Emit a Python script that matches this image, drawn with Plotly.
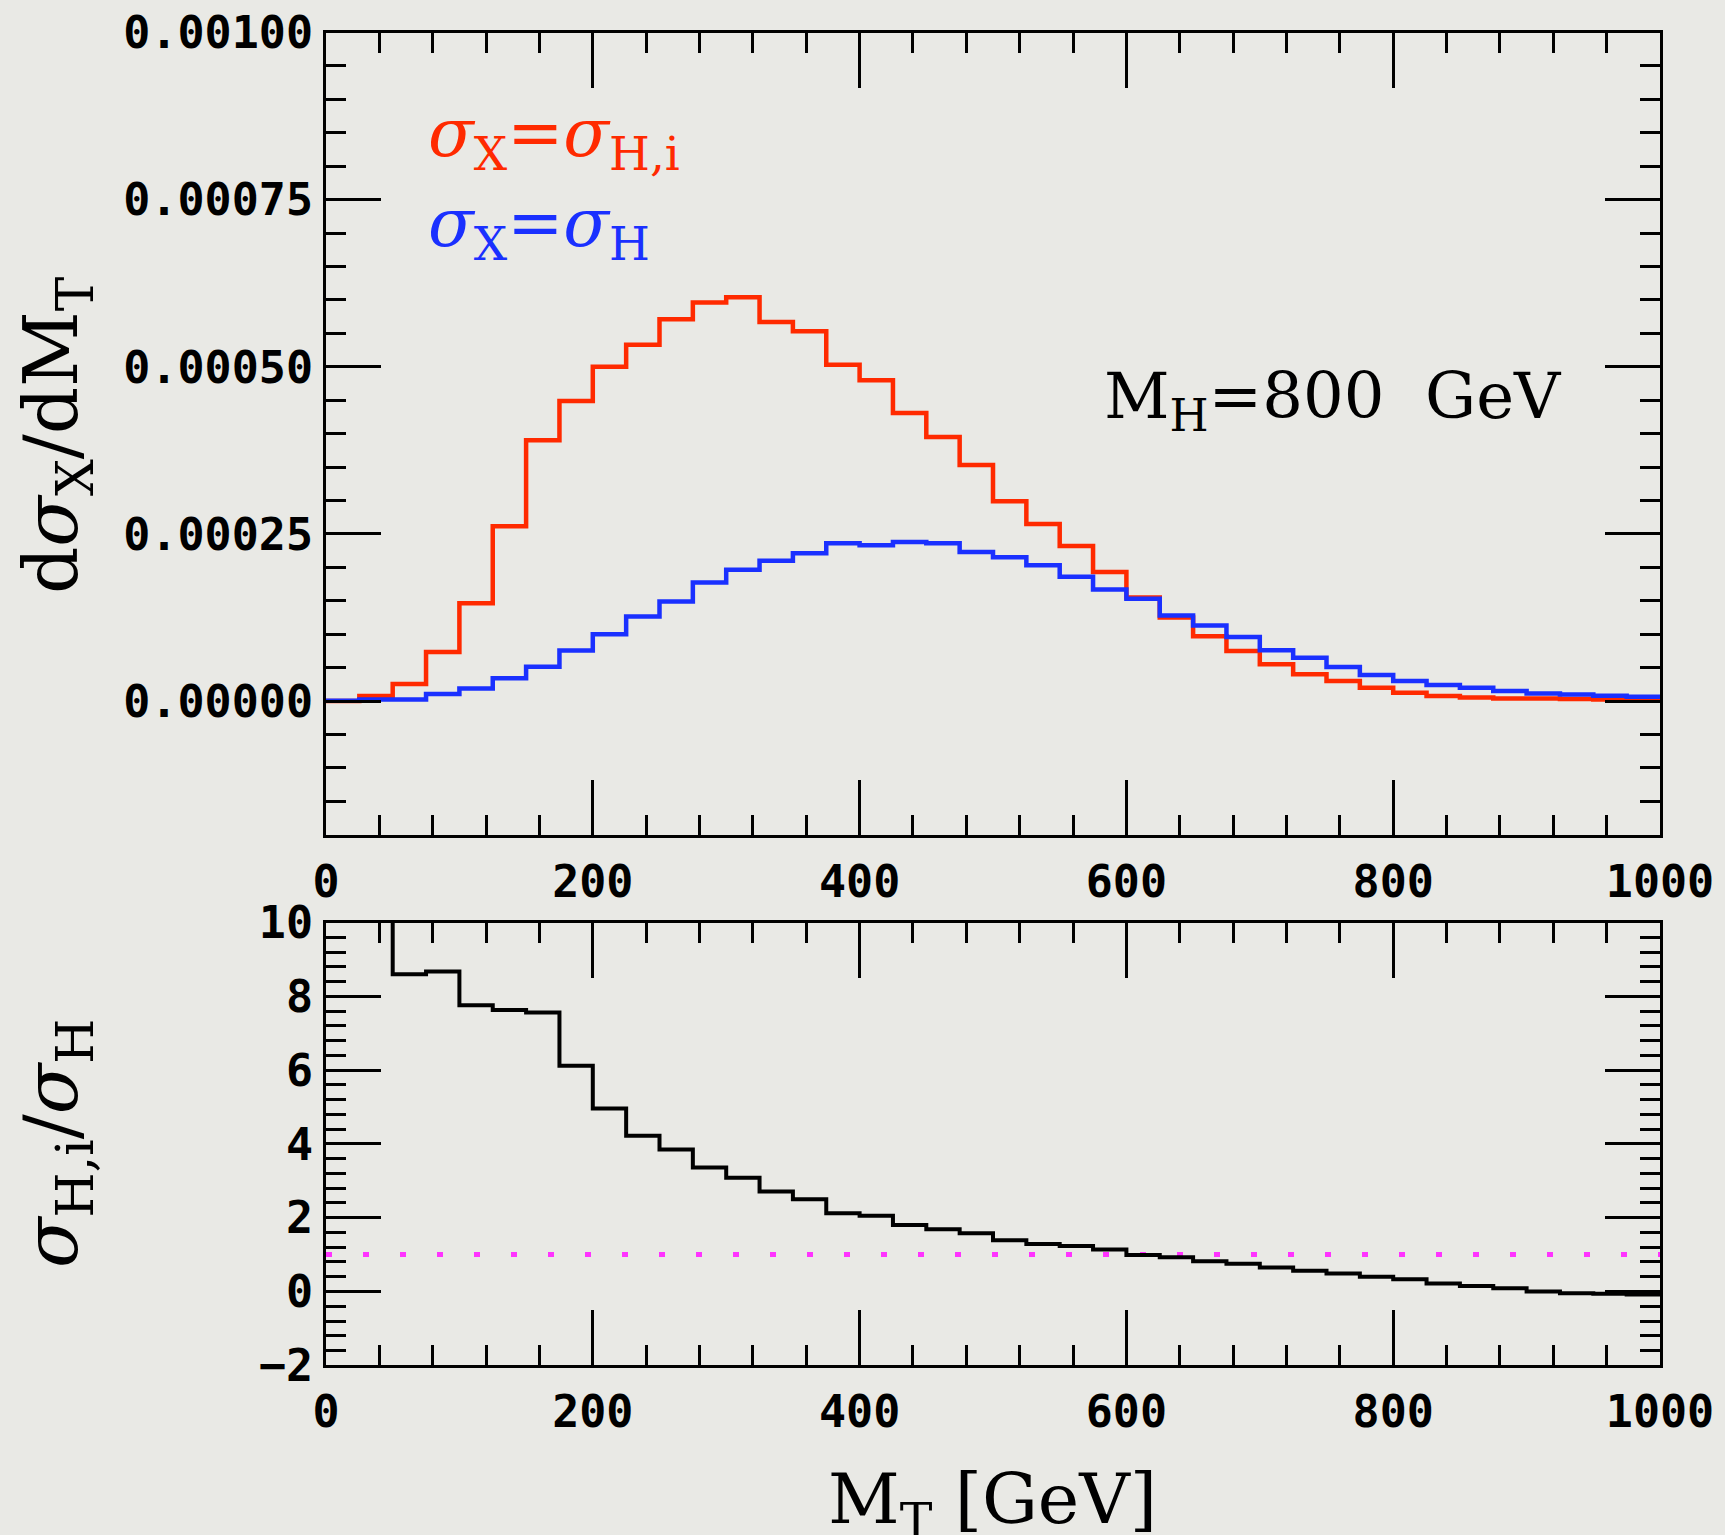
import plotly.graph_objects as go

# ---------------- data ----------------
bin_edges = [0, 25, 50, 75, 100, 125, 150, 175, 200, 225, 250, 275, 300, 325, 350,
             375, 400, 425, 450, 475, 500, 525, 550, 575, 600, 625, 650, 675, 700,
             725, 750, 775, 800, 825, 850, 875, 900, 925, 950, 975, 1000]

sigma_Hi = [0.0, 7.5e-6, 2.55e-5, 7.35e-5, 1.465e-4, 2.615e-4, 3.9e-4, 4.49e-4, 5.0e-4,
            5.33e-4, 5.71e-4, 5.96e-4, 6.04e-4, 5.67e-4, 5.53e-4, 5.03e-4, 4.80e-4,
            4.31e-4, 3.95e-4, 3.53e-4, 2.99e-4, 2.65e-4, 2.32e-4, 1.93e-4, 1.55e-4,
            1.25e-4, 9.7e-5, 7.5e-5, 5.5e-5, 4.0e-5, 3.0e-5, 2.0e-5, 1.25e-5, 7.5e-6,
            5.5e-6, 4.0e-6, 4.0e-6, 3.0e-6, 2.5e-6, 2.5e-6]

sigma_H = [0.5e-6, 2.5e-6, 2.5e-6, 1.05e-5, 1.9e-5, 3.4e-5, 5.15e-5, 7.55e-5, 1.0e-4,
           1.265e-4, 1.49e-4, 1.775e-4, 1.965e-4, 2.1e-4, 2.21e-4, 2.36e-4, 2.33e-4,
           2.38e-4, 2.36e-4, 2.23e-4, 2.15e-4, 2.03e-4, 1.86e-4, 1.67e-4, 1.53e-4,
           1.28e-4, 1.13e-4, 9.6e-5, 7.6e-5, 6.5e-5, 5.1e-5, 3.9e-5, 3.0e-5, 2.4e-5,
           2.0e-5, 1.5e-5, 1.15e-5, 1.0e-5, 8.0e-6, 6.5e-6]

ratio = [14.0, 14.0, 8.60, 8.67, 7.76, 7.63, 7.56, 6.12, 4.96, 4.22, 3.85, 3.36, 3.08,
         2.71, 2.50, 2.12, 2.05, 1.80, 1.69, 1.58, 1.39, 1.29, 1.23, 1.14, 0.99, 0.93,
         0.82, 0.75, 0.65, 0.56, 0.49, 0.40, 0.33, 0.22, 0.15, 0.09, 0.0, -0.05, -0.06,
         -0.08]

ratio_reference = 1.0

# ---------------- styling ----------------
W, H = 1725, 1535
BG = "#e9e9e5"
RED = "#ff2a00"
BLUE = "#1a30ff"
TICKFONT = dict(family="DejaVu Sans Mono", size=45, color="black", weight="bold")
SERIF = "DejaVu Serif"


def steps(vals):
    return bin_edges, list(vals) + [vals[-1]]


fig = go.Figure()

x, y = steps(sigma_Hi)
fig.add_trace(go.Scatter(x=x, y=y, mode="lines", line=dict(color=RED, width=4.5, shape="hv"),
                         xaxis="x", yaxis="y", showlegend=False))
x, y = steps(sigma_H)
fig.add_trace(go.Scatter(x=x, y=y, mode="lines", line=dict(color=BLUE, width=4.5, shape="hv"),
                         xaxis="x", yaxis="y", showlegend=False))
x, y = steps(ratio)
fig.add_trace(go.Scatter(x=x, y=y, mode="lines", line=dict(color="black", width=4, shape="hv"),
                         xaxis="x2", yaxis="y2", showlegend=False))

fig.add_shape(type="line", xref="x2", yref="y2", x0=bin_edges[0], x1=bin_edges[-1],
              y0=ratio_reference, y1=ratio_reference,
              line=dict(color="#ff33ff", width=5, dash="6px,31px"), layer="below")

xdom = [326 / W, 1660 / W]
top_dom = [(H - 834.8) / H, (H - 32.5) / H]
bot_dom = [(H - 1365.3) / H, (H - 922.5) / H]

common = dict(ticks="inside", ticklen=55, tickwidth=3, tickcolor="black",
              showline=True, linewidth=3, linecolor="black", mirror="ticks",
              showgrid=False, zeroline=False, tickfont=TICKFONT, automargin=False)

fig.update_layout(
    width=W, height=H, autosize=False,
    margin=dict(l=0, r=0, t=0, b=0, pad=0, autoexpand=False),
    paper_bgcolor=BG, plot_bgcolor=BG,
    showlegend=False,
    xaxis=dict(domain=xdom, anchor="y", range=[0, 1000], tick0=0, dtick=200,
               minor=dict(ticks="inside", ticklen=20, tickwidth=3, tickcolor="black", dtick=40, tick0=0),
               ticklabelstandoff=5, **common),
    yaxis=dict(domain=top_dom, anchor="x", range=[-0.0002, 0.001], tick0=0, dtick=0.00025,
               tickformat=".5f",
               minor=dict(ticks="inside", ticklen=20, tickwidth=3, tickcolor="black", dtick=0.00005, tick0=0),
               ticklabelstandoff=1, **common),
    xaxis2=dict(domain=xdom, anchor="y2", range=[0, 1000], tick0=0, dtick=200,
                minor=dict(ticks="inside", ticklen=20, tickwidth=3, tickcolor="black", dtick=40, tick0=0),
                ticklabelstandoff=5, **common),
    yaxis2=dict(domain=bot_dom, anchor="x2", range=[-2, 10], tick0=0, dtick=2,
                minor=dict(ticks="inside", ticklen=20, tickwidth=3, tickcolor="black", dtick=0.4, tick0=0),
                ticklabelstandoff=1, **common),
)

ann = []
# y titles
ann.append(dict(text="d<i>σ</i><sub>X</sub>/dM<sub>T</sub>", xref="paper", yref="paper",
                x=56 / W, y=(H - 435) / H, textangle=-90, showarrow=False,
                xanchor="center", yanchor="middle",
                font=dict(family=SERIF, size=74, color="black")))
ann.append(dict(text="<i>σ</i><sub>H,i</sub>/<i>σ</i><sub>H</sub>", xref="paper", yref="paper",
                x=56 / W, y=(H - 1144) / H, textangle=-90, showarrow=False,
                xanchor="center", yanchor="middle",
                font=dict(family=SERIF, size=74, color="black")))
# x title
ann.append(dict(text="M<sub>T</sub> [GeV]", xref="paper", yref="paper",
                x=992 / W, y=(H - 1504) / H, showarrow=False,
                xanchor="center", yanchor="middle",
                font=dict(family=SERIF, size=70, color="black")))
# series labels
ann.append(dict(text="<i>σ</i><sub>X</sub>=<i>σ</i><sub>H,i</sub>", xref="paper", yref="paper",
                x=426 / W, y=(H - 138) / H, showarrow=False, xanchor="left", yanchor="middle",
                font=dict(family=SERIF, size=67, color=RED)))
ann.append(dict(text="<i>σ</i><sub>X</sub>=<i>σ</i><sub>H</sub>", xref="paper", yref="paper",
                x=426 / W, y=(H - 227) / H, showarrow=False, xanchor="left", yanchor="middle",
                font=dict(family=SERIF, size=67, color=BLUE)))
# mass label
ann.append(dict(text="M<sub>H</sub>=800  GeV", xref="paper", yref="paper",
                x=1102 / W, y=(H - 400) / H, showarrow=False, xanchor="left", yanchor="middle",
                font=dict(family=SERIF, size=64, color="black")))
fig.update_layout(annotations=ann)

fig.write_html("out.html", config={"displayModeBar": False},
               post_script="document.body.style.margin='0px';")
